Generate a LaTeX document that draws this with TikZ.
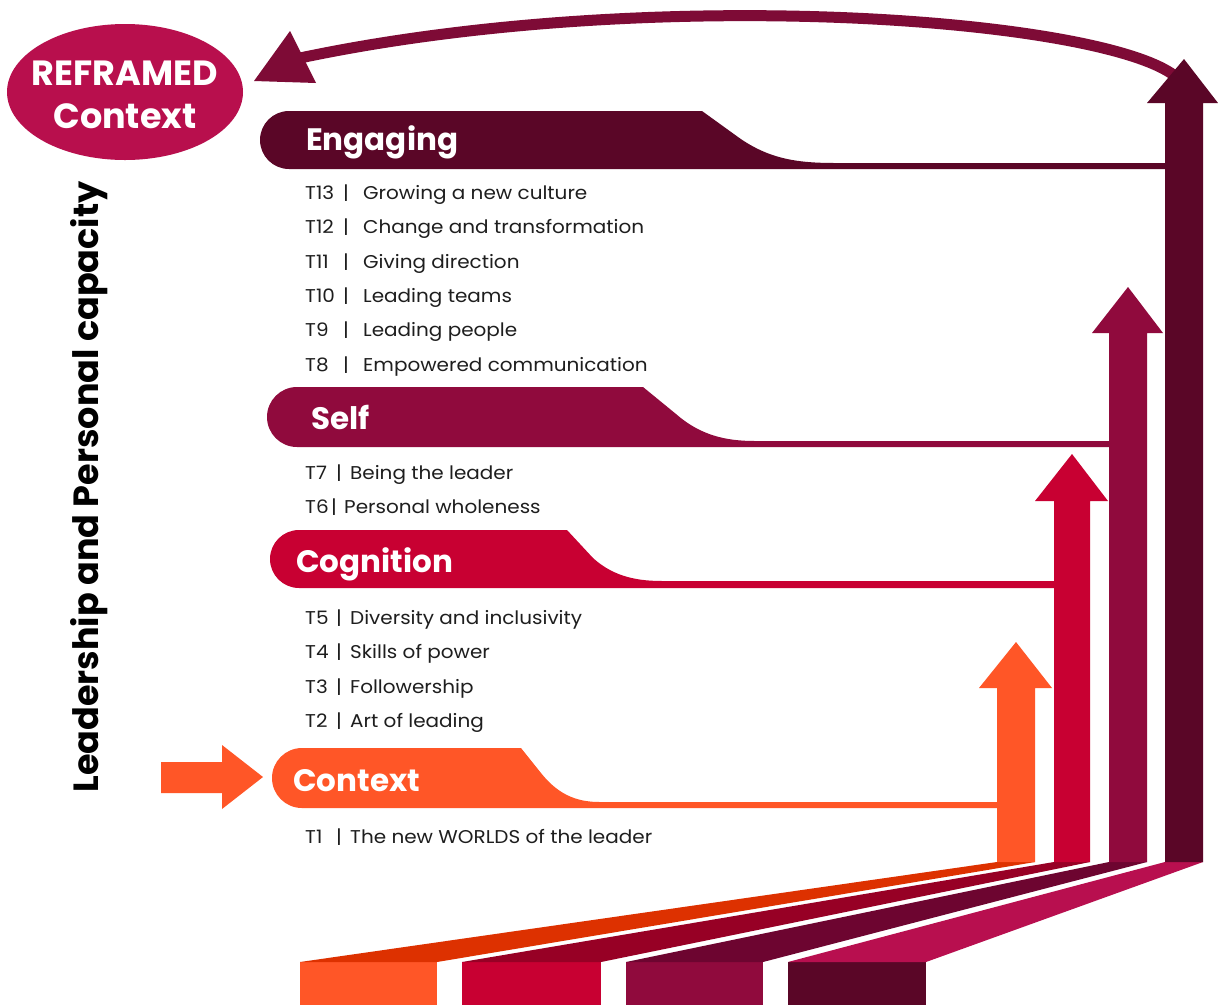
\documentclass[tikz,border=0pt]{standalone}
\usepackage{fontspec}
\setmainfont{Poppins}
\newfontfamily\topicfont[FakeStretch=1.08]{Poppins}
\usetikzlibrary{shapes.geometric}
\definecolor{orA}{HTML}{FF5627}
\definecolor{orR}{HTML}{DD3100}
\definecolor{rdA}{HTML}{C80032}
\definecolor{rdR}{HTML}{970025}
\definecolor{puA}{HTML}{900A3D}
\definecolor{puR}{HTML}{6D0530}
\definecolor{dkA}{HTML}{5A0627}
\definecolor{dkR}{HTML}{B80F4F}
\definecolor{ellC}{HTML}{B80F4D}
\definecolor{curC}{HTML}{7E0B36}
\definecolor{txtC}{HTML}{1E1E1E}
\tikzset{
  topic/.style={anchor=base west, inner sep=0pt, text=txtC, font=\topicfont\fontsize{18.5}{22}\selectfont},
  head/.style={anchor=base west, inner sep=0pt, text=white, font=\fontsize{31}{36}\selectfont\bfseries},
}
\begin{document}
\begin{tikzpicture}[x=1pt,y=-1pt]
\useasboundingbox (0,0) rectangle (1218,1005);
\fill[white] (0,0) rectangle (1218,1005);

% ---- bottom blocks and ribbons
\fill[orA] (300,962) rectangle (437,1005);
\fill[rdA] (462,962) rectangle (601,1005);
\fill[puA] (626,962) rectangle (763,1005);
\fill[dkA] (788,962) rectangle (926,1005);
\fill[orR] (300,962) -- (437,962) -- (1035,862) -- (997,862) -- cycle;
\fill[rdR] (462,962) -- (601,962) -- (1090,862) -- (1054,862) -- cycle;
\fill[puR] (626,962) -- (763,962) -- (1147,862) -- (1109,862) -- cycle;
\fill[dkR] (788,962) -- (926,962) -- (1203,862) -- (1165,862) -- cycle;

% ---- curved return arrow
\coordinate (cstart) at (1175,76);
\coordinate (cend) at (300,58);
\draw[curC, line width=11pt] (cstart) .. controls (1100,18) and (650,-16) .. (cend);
\fill[curC] (254,81) -- (290,31) -- (316,83) -- cycle;

% ---- vertical arrows
\fill[orA] (997,862) -- (997,688) -- (979,688) -- (1016,642) -- (1052,688) -- (1035,688) -- (1035,862) -- cycle;
\fill[rdA] (1054,862) -- (1054,501) -- (1035,501) -- (1072,454) -- (1108,501) -- (1090,501) -- (1090,862) -- cycle;
\fill[puA] (1109,862) -- (1109,333) -- (1092,333) -- (1128,287) -- (1163,333) -- (1147,333) -- (1147,862) -- cycle;
\fill[dkA] (1165,862) -- (1165,103) -- (1147,103) -- (1184,59) -- (1218,103) -- (1203,103) -- (1203,862) -- cycle;

% ---- banners
\fill[dkA] (289,169) arc[start angle=90, end angle=270, radius=29] -- (702,111) -- (738,137)
  .. controls (770,160) and (800,163) .. (836,163) -- (1166,163) -- (1166,169) -- cycle;
\fill[puA] (297,447) arc[start angle=90, end angle=270, radius=30] -- (643,387) -- (676,414)
  .. controls (700,435) and (725,441) .. (755,441) -- (1110,441) -- (1110,447) -- cycle;
\fill[rdA] (299,588) arc[start angle=90, end angle=270, radius=29] -- (567,530) -- (593,558)
  .. controls (615,578) and (640,581) .. (663,581) -- (1055,581) -- (1055,588) -- cycle;
\fill[orA] (302,808) arc[start angle=90, end angle=270, radius=30] -- (521,748) -- (541,773)
  .. controls (560,797) and (580,802) .. (600,802) -- (998,802) -- (998,808) -- cycle;

% ---- input arrow
\fill[orA] (161,762) -- (222,762) -- (222,745) -- (263,777) -- (222,809) -- (222,793) -- (161,793) -- cycle;

% ---- ellipse
\node[ellipse, fill=ellC, minimum width=236pt, minimum height=136pt, inner sep=0pt] (reframed) at (125,92) {};
\node[inner sep=0pt, text=white, font=\fontsize{35}{43}\selectfont\bfseries, align=center] (reftext) at (125,95) {REFRAMED\\Context};

% ---- headers
\node[head] (engaging) at (306,150) {Engaging};
\node[head] (self) at (311,429) {Self};
\node[head] (cognition) at (296,572) {Cognition};
\node[head] (context) at (293,791) {Context};

% ---- side label
\node[rotate=90, inner sep=0pt, font=\fontsize{35}{42}\selectfont\bfseries] (side) at (89,487) {Leadership and Personal capacity};

% ---- topics
\node[topic] (t13) at (305,199) {\makebox[38pt][l]{T13}\makebox[20pt][l]{|}Growing a new culture};
\node[topic] (t12) at (305,233) {\makebox[38pt][l]{T12}\makebox[20pt][l]{|}Change and transformation};
\node[topic] (t11) at (305,268) {\makebox[38pt][l]{T11}\makebox[20pt][l]{|}Giving direction};
\node[topic] (t10) at (305,302) {\makebox[38pt][l]{T10}\makebox[20pt][l]{|}Leading teams};
\node[topic] (t9) at (305,336) {\makebox[38pt][l]{T9}\makebox[20pt][l]{|}Leading people};
\node[topic] (t8) at (305,371) {\makebox[38pt][l]{T8}\makebox[20pt][l]{|}Empowered communication};
\node[topic] (t7) at (305,479) {\makebox[31pt][l]{T7}\makebox[14pt][l]{|}Being the leader};
\node[topic] (t6) at (305,513) {\makebox[26pt][l]{T6}\makebox[13pt][l]{|}Personal wholeness};
\node[topic] (t5) at (305,624) {\makebox[31pt][l]{T5}\makebox[14pt][l]{|}Diversity and inclusivity};
\node[topic] (t4) at (305,658) {\makebox[31pt][l]{T4}\makebox[14pt][l]{|}Skills of power};
\node[topic] (t3) at (305,693) {\makebox[31pt][l]{T3}\makebox[14pt][l]{|}Followership};
\node[topic] (t2) at (305,727) {\makebox[31pt][l]{T2}\makebox[14pt][l]{|}Art of leading};
\node[topic] (t1) at (305,843) {\makebox[31pt][l]{T1}\makebox[14pt][l]{|}The new WORLDS of the leader};
\end{tikzpicture}
\end{document}
